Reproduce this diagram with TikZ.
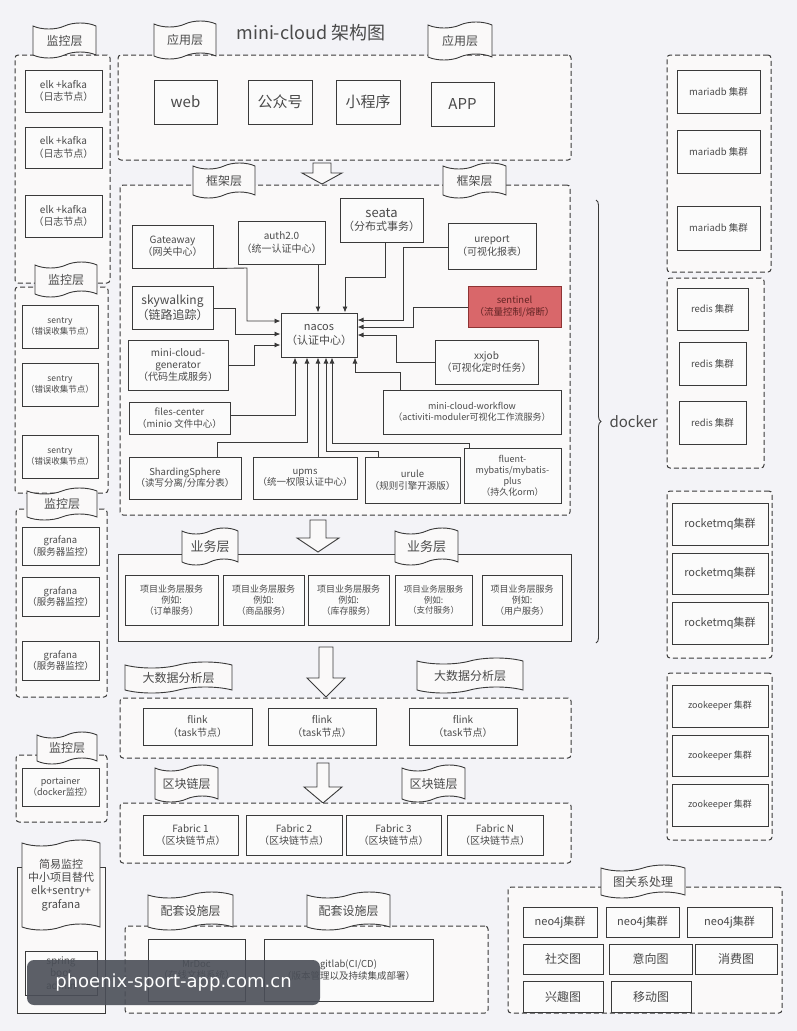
\documentclass[tikz,border=0pt]{standalone}
\usepackage{fontspec}
\setmainfont{Noto Sans CJK SC}
\newfontfamily\wmfont{DejaVu Sans}
\usepackage{tikz}
\usetikzlibrary{arrows.meta,shapes.symbols,decorations.pathreplacing}
\usepackage{xcolor}
\definecolor{bgc}{HTML}{F3F3F7}
\definecolor{framec}{HTML}{FAF9F9}
\definecolor{boxc}{HTML}{FBFBFB}
\definecolor{linec}{HTML}{3A3A3A}
\definecolor{txtc}{HTML}{4A4A4A}
\definecolor{sentfill}{HTML}{D9676A}
\definecolor{sentline}{HTML}{8E3434}
\definecolor{wmc}{HTML}{4B4F58}
\tikzset{
  box/.style        = {draw=linec, fill=boxc, line width=1pt, align=center,
                       inner sep=1pt, text=txtc},
  grp/.style        = {draw=linec, fill=framec, line width=1pt,
                       dash pattern=on 5pt off 3pt, rounded corners=3pt},
  solidgrp/.style   = {draw=linec, fill=framec, line width=1pt},
  banner/.style     = {tape, draw=linec, fill=framec, line width=0.9pt, align=center,
                       inner sep=1pt, text=txtc, tape bend height=6pt},
  sig/.style        = {-{Latex[length=6pt,width=5pt]}, line width=0.9pt, draw=linec},
  blockarrow/.style = {draw=linec, fill=framec, line width=0.9pt},
  f85/.style = {font=\fontsize{8.5}{10.4}\selectfont},
  f9/.style  = {font=\fontsize{9}{11}\selectfont},
  f95/.style = {font=\fontsize{9.5}{11.6}\selectfont},
  f10/.style = {font=\fontsize{10}{12.2}\selectfont},
  f11/.style = {font=\fontsize{11}{13.4}\selectfont},
  f12/.style = {font=\fontsize{12}{14.6}\selectfont},
  f13/.style = {font=\fontsize{13}{15.8}\selectfont},
  f15/.style = {font=\fontsize{15}{18}\selectfont},
}
% box from (x1,y1) to (x2,y2), pixel coordinates
\newcommand{\pbox}[7][box]{\node[#1,minimum width={(#5-#3)*1pt},minimum height={(#6-#4)*1pt}]
  (#2) at ({(#3+#5)/2},{(#4+#6)/2}) {#7};}
% hollow arrow pointing down: x, ytop, yhead, ytip, half shaft, half head
\newcommand{\bigdown}[6]{\draw[blockarrow] ({#1-#5},#2) -- ({#1+#5},#2) -- ({#1+#5},#3) --
  ({#1+#6},#3) -- (#1,#4) -- ({#1-#6},#3) -- ({#1-#5},#3) -- cycle;}

\begin{document}
\begin{tikzpicture}[x=1pt,y=-1pt]
\useasboundingbox (0,0) rectangle (797,1031);
\fill[bgc] (0,0) rectangle (797,1031);
\node[text=txtc,font=\fontsize{18}{20}\selectfont] (title) at (311,33) {mini-cloud 架构图};

% monitoring column
\pbox[grp]{monA}{15}{55}{110}{283}{}
\pbox[grp]{monB}{15}{287}{108}{493}{}
\pbox[grp]{monC}{16}{509}{107}{697}{}
\pbox[grp]{monD}{16}{755}{107}{822}{}
\pbox[box,f10]{elkA}{25}{70}{102}{112}{elk +kafka\\（日志节点）}
\pbox[box,f10]{elkB}{25}{127}{102}{168}{elk +kafka\\（日志节点）}
\pbox[box,f10]{elkC}{25}{195}{102}{237}{elk +kafka\\（日志节点）}
\pbox[box,f85]{sentryA}{22}{305}{98}{348}{sentry\\（错误收集节点）}
\pbox[box,f85]{sentryB}{22}{363}{98}{406}{sentry\\（错误收集节点）}
\pbox[box,f85]{sentryC}{22}{435}{98}{478}{sentry\\（错误收集节点）}
\pbox[box,f95]{grafA}{22}{527}{99}{565}{grafana\\（服务器监控）}
\pbox[box,f95]{grafB}{22}{577}{99}{616}{grafana\\（服务器监控）}
\pbox[box,f95]{grafC}{22}{641}{99}{680}{grafana\\（服务器监控）}
\pbox[box,f9]{port}{22}{768}{99}{806}{portainer\\（docker监控）}
\pbox[banner,f12]{monBanA}{33}{23}{96}{58}{监控层}
\pbox[banner,f12]{monBanB}{35}{262}{97}{297}{监控层}
\pbox[banner,f12]{monBanC}{27}{488}{97}{520}{监控层}
\pbox[banner,f12]{monBanD}{37}{732}{97}{764}{监控层}
\pbox[solidgrp]{simpleOut}{17}{867}{105}{1013}{}
\pbox[banner,f11]{simpleTag}{22}{840}{100}{930}{简易监控\\中小项目替代\\elk+sentry+\\grafana}
\pbox[box,f10]{springba}{25}{951}{97}{995}{spring\\boot\\admin}

% application layer
\pbox[grp]{appL}{118}{55}{571}{160}{}
\pbox[banner,f12]{appBanA}{154}{21}{216}{59}{应用层}
\pbox[banner,f12]{appBanB}{428}{22}{492}{60}{应用层}
\pbox[box,f15]{web}{154}{80}{217}{124}{web}
\pbox[box,f15]{gzh}{248}{80}{312}{124}{公众号}
\pbox[box,f15]{xcx}{336}{80}{400}{124}{小程序}
\pbox[box,f15]{app}{431}{82}{494}{126}{APP}
\bigdown{322}{163}{173}{184}{9}{20}

% framework layer
\pbox[grp]{fwL}{120}{185}{570}{515}{}
\pbox[banner,f12]{fwBanA}{193}{163}{255}{198}{框架层}
\pbox[banner,f12]{fwBanB}{443}{163}{506}{198}{框架层}
\pbox[box,f10]{gate}{132}{225}{213}{268}{Gateaway\\（网关中心）}
\pbox[box,f10]{auth}{238}{221}{325}{264}{auth2.0\\（统一认证中心）}
\pbox[box,f11]{seata}{340}{198}{423}{242}{{\fontsize{13}{15}\selectfont seata}\\（分布式事务）}
\pbox[box,f10]{urep}{448}{223}{536}{269}{ureport\\（可视化报表）}
\pbox[box,f12]{sky}{132}{286}{213}{329}{skywalking\\（链路追踪）}
\pbox[box,f95,fill=sentfill,draw=sentline,text=sentline!70!black]{sent}{468}{286}{561}{327}{sentinel\\（流量控制/熔断）}
\pbox[box,f11]{nacos}{281}{313}{357}{357}{nacos\\（认证中心）}
\pbox[box,f10]{gen}{128}{340}{228}{390}{mini-cloud-\\generator\\（代码生成服务）}
\pbox[box,f10]{xxjob}{435}{340}{538}{384}{xxjob\\（可视化定时任务）}
\pbox[box,f95]{files}{129}{402}{230}{434}{files-center\\（minio 文件中心）}
\pbox[box,f9]{flow}{383}{390}{561}{434}{mini-cloud-workflow\\（activiti-moduler可视化工作流服务）}
\pbox[box,f95]{shard}{129}{457}{241}{499}{ShardingSphere\\（读写分离/分库分表）}
\pbox[box,f95]{upms}{253}{457}{357}{499}{upms\\（统一权限认证中心）}
\pbox[box,f95]{urule}{365}{457}{460}{503}{urule\\（规则引擎开源版）}
\pbox[box,f9]{fluent}{464}{448}{561}{503}{fluent-\\mybatis/mybatis-\\plus\\（持久化orm）}
% into nacos: left side
\draw[sig] (gate.south east) -- (247,268) -- (247,321) -- (nacos.west |- 0,321);
\draw[sig] (sky.east |- 0,308) -- (235,308) -- (235,334) -- (nacos.west |- 0,334);
\draw[sig] (gen.east |- 0,365) -- (254,365) -- (254,345) -- (nacos.west |- 0,345);
% top
\draw[sig] (auth.south -| 318,0) -- (nacos.north -| 318,0);
\draw[sig] (seata.south -| 385,0) -- (385,277) -- (345,277) -- (nacos.north -| 345,0);
% right side
\draw[sig] (urep.west |- 0,247) -- (403,247) -- (403,320) -- (nacos.east |- 0,320);
\draw[sig] (sent.west |- 0,307) -- (413,307) -- (413,327) -- (nacos.east |- 0,327);
\draw[sig] (xxjob.west |- 0,362) -- (396,362) -- (396,335) -- (nacos.east |- 0,335);
% bottom
\draw[sig] (files.east |- 0,415) -- (295,415) -- (nacos.south -| 295,0);
\draw[sig] (shard.north -| 217,0) -- (217,442) -- (307,442) -- (nacos.south -| 307,0);
\draw[sig] (upms.north -| 318,0) -- (nacos.south -| 318,0);
\draw[sig] (urule.north -| 378,0) -- (378,451) -- (326,451) -- (nacos.south -| 326,0);
\draw[sig] (fluent.north -| 469,0) -- (469,443) -- (332,443) -- (nacos.south -| 332,0);
\draw[sig] (flow.north -| 400,0) -- (400,372) -- (355,372) -- (nacos.south -| 355,0);
\bigdown{318}{520}{538}{552}{8}{21}

% business layer
\pbox[solidgrp]{bizL}{118}{554}{571}{641}{}
\pbox[banner,f13]{bizBanA}{182}{528}{238}{565}{业务层}
\pbox[banner,f13]{bizBanB}{395}{528}{458}{565}{业务层}
\pbox[box,f9]{bizA}{125}{575}{218}{625}{项目业务层服务\\例如:\\（订单服务）}
\pbox[box,f9]{bizB}{223}{575}{304}{625}{项目业务层服务\\例如:\\（商品服务）}
\pbox[box,f9]{bizC}{308}{575}{389}{625}{项目业务层服务\\例如:\\（库存服务）}
\pbox[box,f85]{bizD}{395}{575}{472}{625}{项目业务层服务\\例如:\\（支付服务）}
\pbox[box,f9]{bizE}{482}{575}{562}{625}{项目业务层服务\\例如:\\（用户服务）}
\bigdown{326}{647}{678}{697}{7}{19}

% big data layer
\pbox[grp]{bdL}{120}{698}{571}{758}{}
\pbox[banner,f12]{bdBanA}{125}{662}{232}{693}{大数据分析层}
\pbox[banner,f12]{bdBanB}{417}{658}{523}{693}{大数据分析层}
\pbox[box,f10]{flinkA}{143}{708}{252}{745}{flink\\（task节点）}
\pbox[box,f10]{flinkB}{268}{708}{376}{745}{flink\\（task节点）}
\pbox[box,f10]{flinkC}{409}{708}{517}{745}{flink\\（task节点）}
\bigdown{323}{763}{787}{803}{6}{19}

% blockchain layer
\pbox[grp]{chL}{120}{803}{571}{863}{}
\pbox[banner,f12]{chBanA}{155}{765}{218}{802}{区块链层}
\pbox[banner,f12]{chBanB}{402}{765}{465}{802}{区块链层}
\pbox[box,f10]{fabA}{143}{815}{238}{855}{Fabric 1\\（区块链节点）}
\pbox[box,f10]{fabB}{246}{815}{342}{855}{Fabric 2\\（区块链节点）}
\pbox[box,f10]{fabC}{346}{815}{441}{855}{Fabric 3\\（区块链节点）}
\pbox[box,f10]{fabD}{447}{815}{543}{855}{Fabric N\\（区块链节点）}

% infrastructure layer
\pbox[grp]{infL}{125}{926}{488}{1013}{}
\pbox[banner,f12]{infBanA}{148}{892}{233}{930}{配套设施层}
\pbox[banner,f12]{infBanB}{307}{892}{390}{930}{配套设施层}
\pbox[box,f95]{mrdoc}{148}{939}{245}{1001}{MrDoc\\（在线文档系统）}
\pbox[box,f95]{gitlab}{264}{939}{433}{1001}{gitlab(CI/CD)\\（版本管理以及持续集成部署）}

% docker column
\pbox[grp]{dbL}{667}{55}{771}{272}{}
\pbox[grp]{rdL}{667}{278}{764}{468}{}
\pbox[grp]{mqL}{667}{491}{772}{658}{}
\pbox[grp]{zkL}{667}{673}{772}{840}{}
\pbox[box,f95]{dbA}{677}{70}{760}{113}{mariadb 集群}
\pbox[box,f95]{dbB}{677}{130}{760}{173}{mariadb 集群}
\pbox[box,f95]{dbC}{677}{206}{760}{250}{mariadb 集群}
\pbox[box,f95]{rdA}{677}{288}{748}{330}{redis 集群}
\pbox[box,f95]{rdB}{679}{342}{746}{385}{redis 集群}
\pbox[box,f95]{rdC}{679}{401}{746}{444}{redis 集群}
\pbox[box,f11]{mqA}{672}{503}{768}{545}{rocketmq集群}
\pbox[box,f11]{mqB}{672}{553}{768}{594}{rocketmq集群}
\pbox[box,f11]{mqC}{672}{602}{768}{644}{rocketmq集群}
\pbox[box,f9]{zkA}{672}{685}{768}{727}{zookeeper 集群}
\pbox[box,f9]{zkB}{672}{735}{768}{776}{zookeeper 集群}
\pbox[box,f9]{zkC}{672}{784}{768}{826}{zookeeper 集群}
\coordinate (brTop) at (596,200);
\coordinate (brBot) at (596,643);
\draw[linec,line width=0.9pt,decorate,decoration={brace,amplitude=5pt}] (brTop) -- (brBot);
\node[f15,text=txtc,anchor=west] (docker) at (606,422) {docker};

% graph processing
\pbox[grp]{grL}{508}{887}{782}{1013}{}
\pbox[banner,f12]{grBan}{601}{865}{685}{898}{图关系处理}
\pbox[box,f11]{neoA}{523}{907}{597}{937}{neo4j集群}
\pbox[box,f11]{neoB}{606}{907}{679}{937}{neo4j集群}
\pbox[box,f11]{neoC}{687}{907}{772}{937}{neo4j集群}
\pbox[box,f12]{social}{523}{944}{603}{974}{社交图}
\pbox[box,f12]{intent}{609}{944}{692}{974}{意向图}
\pbox[box,f12]{spend}{695}{944}{777}{974}{消费图}
\pbox[box,f12]{hobby}{523}{981}{603}{1012}{兴趣图}
\pbox[box,f12]{move}{611}{981}{691}{1012}{移动图}

% overlay banner
\node[fill=wmc,fill opacity=0.9,text opacity=1,text=white,rounded corners=7pt,
      minimum width=293pt,minimum height=45pt,font=\wmfont\fontsize{18}{20}\selectfont]
      (wm) at (173.5,982.5) {phoenix-sport-app.com.cn};
\end{tikzpicture}
\end{document}
